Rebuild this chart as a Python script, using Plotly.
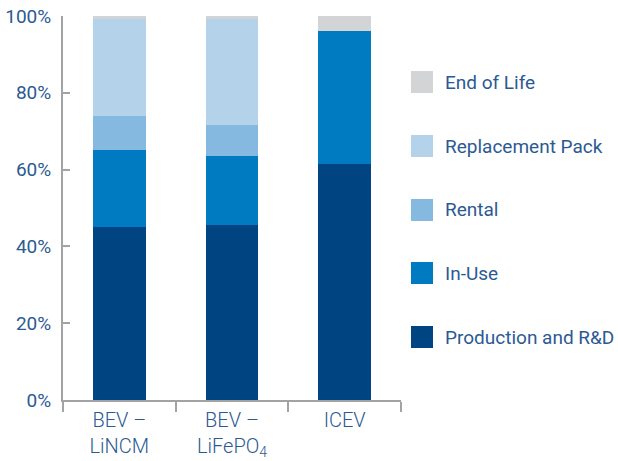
import plotly.graph_objects as go

# Share of life-cycle cost by phase (percent of total)
vehicles = ["BEV –<br>LiNCM", "BEV –<br>LiFePO<sub>4</sub>", "ICEV"]
production = [45.1, 45.7, 61.5]
in_use = [20.0, 17.9, 34.6]
rental = [8.9, 8.0, 0.0]
replacement = [25.2, 27.6, 0.0]
end_of_life = [0.8, 0.8, 3.9]

series_names = ["Production and R&D", "In-Use", "Rental", "Replacement Pack", "End of Life"]
series_values = [production, in_use, rental, replacement, end_of_life]
series_colors = ["#004582", "#007BC1", "#86B9E0", "#B4D2E9", "#D3D4D6"]

y_ticks = [0, 20, 40, 60, 80, 100]
y_tick_labels = ["0%", "20%", "40%", "60%", "80%", "100%"]

TEXT = "#2B5A93"
AXIS = "#A3A3A3"
FONT = "Roboto"

W, H = 618, 461
L, R, T, B = 63, 217, 16, 61
plot_w = W - L - R
plot_h = H - T - B

fig = go.Figure()
for name, vals, col in zip(series_names, series_values, series_colors):
    fig.add_trace(go.Bar(x=vehicles, y=vals, name=name, marker_color=col,
                         marker_line_width=0, showlegend=False))

# Legend drawn as swatches + labels, top entry = last stacked series
def px_x(p):
    return (p - L) / plot_w

def px_y(p):
    return (H - B - p) / plot_h

legend_rows = list(zip(series_names, series_colors))[::-1]
row_centers = [82, 146, 210, 273, 337]
shapes = []
annotations = []
for (name, col), cy in zip(legend_rows, row_centers):
    shapes.append(dict(type="rect", xref="paper", yref="paper",
                       x0=px_x(411), x1=px_x(433), y0=px_y(cy + 11), y1=px_y(cy - 11),
                       fillcolor=col, line_width=0))
    annotations.append(dict(xref="paper", yref="paper", x=px_x(443), y=px_y(cy),
                            text=name, showarrow=False, xanchor="left", yanchor="middle",
                            font=dict(family=FONT, size=19, color=TEXT)))

fig.update_layout(
    barmode="stack",
    bargap=0.53,
    width=W, height=H,
    autosize=False,
    margin=dict(l=L, r=R, t=T, b=B, pad=0, autoexpand=False),
    paper_bgcolor="white", plot_bgcolor="white",
    font=dict(family=FONT, size=19, color=TEXT),
    shapes=shapes,
    annotations=annotations,
    xaxis=dict(showline=True, linecolor=AXIS, linewidth=2,
               ticks="outside", ticklen=10, tickcolor=AXIS, tickwidth=2,
               tickson="boundaries", showgrid=False, automargin=False,
               ticklabelstandoff=1,
               tickfont=dict(family=FONT, size=20, color=TEXT, weight=300)),
    yaxis=dict(range=[0, 100], tickvals=y_ticks, ticktext=y_tick_labels,
               showline=True, linecolor=AXIS, linewidth=2,
               ticks="inside", ticklen=7, tickcolor=AXIS, tickwidth=2,
               showgrid=False, zeroline=False, automargin=False,
               ticklabelstandoff=6,
               tickfont=dict(family=FONT, size=19, color=TEXT)),
)

fig.write_html("out.html")
